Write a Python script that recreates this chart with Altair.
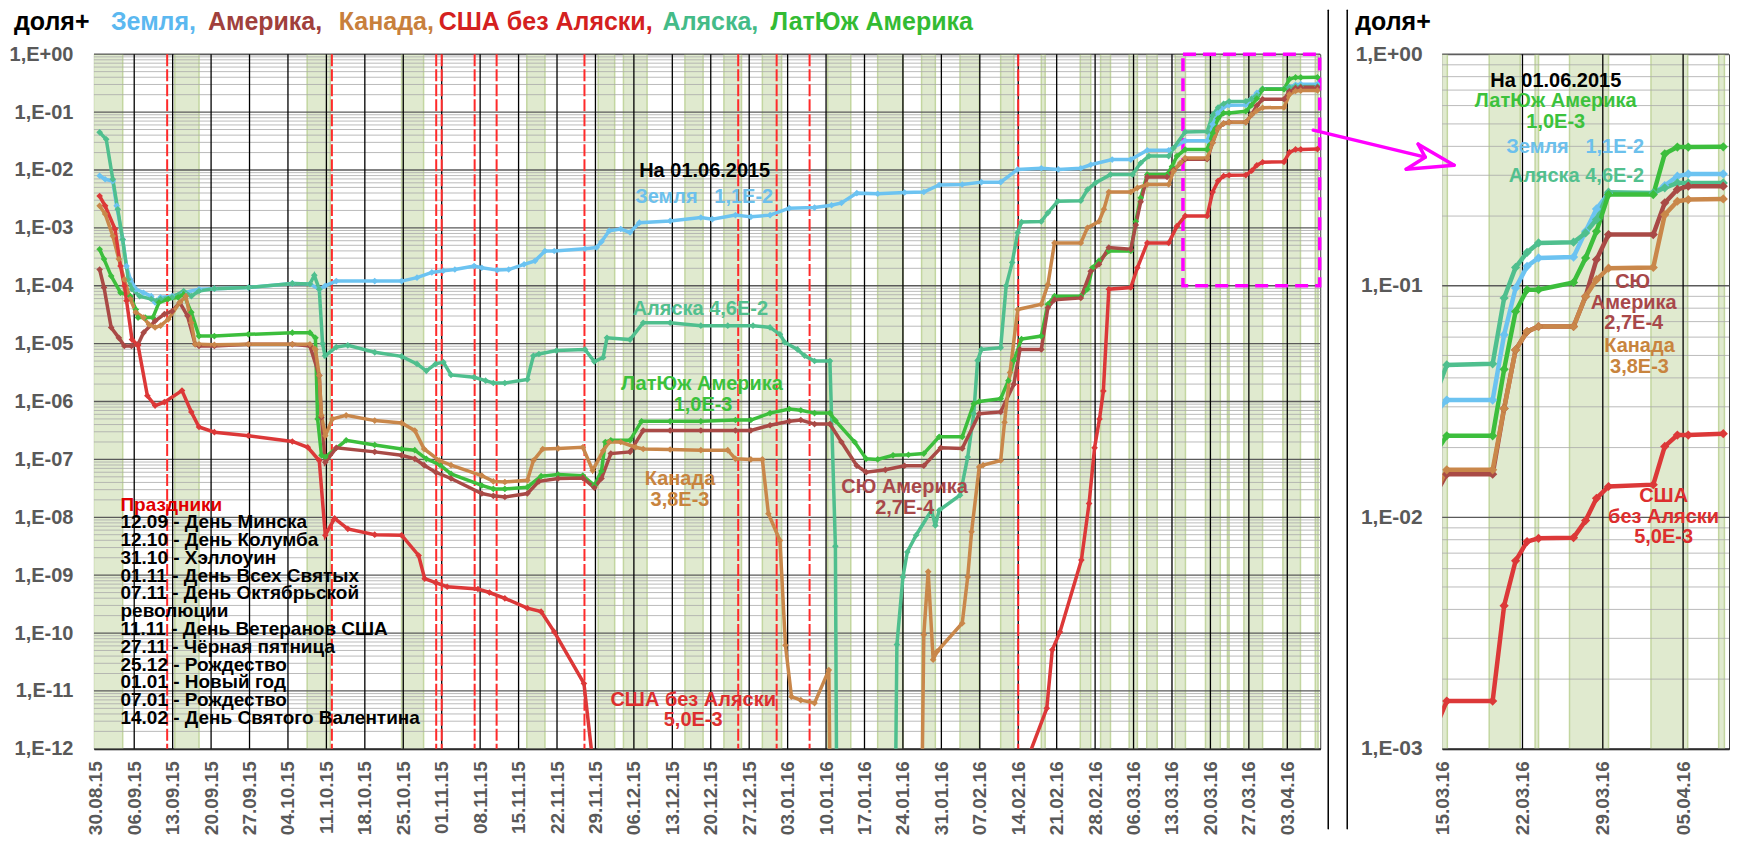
import altair as alt
import pandas as pd

BASE = pd.Timestamp("2015-08-30")
FONT = "Liberation Sans"
GRAY = "#595959"

# ---------------- data (day offset from 30.08.2015, log10 of share) ----------------
SERIES = ["Земля", "Аляска", "ЛатЮж Америка", "СЮ Америка", "Канада", "США без Аляски"]
COLORS = ["#6cc3f1", "#4fbf8e", "#3cbe3c", "#a94a46", "#c9874a", "#dc3838"]

zemlya = [(0.7,-2.10),(1.7,-2.16),(3.1,-2.19),(3.8,-2.62),(4.9,-3.20),(5.6,-3.66),(6.3,-3.89),(7.3,-4.06),
    (8.7,-4.12),(10.1,-4.18),(10.8,-4.29),(11.8,-4.20),(13.9,-4.18),(16.0,-4.12),(18.8,-4.06),(21.6,-4.05),
    (27.8,-4.03),(35.8,-3.96),(39.0,-3.97),(40.7,-4.06),(41.8,-4.00),(43.8,-3.92),(50.8,-3.92),(55.7,-3.92),
    (58.5,-3.86),(61.2,-3.77),(63.3,-3.74),(65.4,-3.72),(68.9,-3.66),(70.3,-3.69),(73.1,-3.73),(75.2,-3.72),
    (78.0,-3.63),(80.0,-3.57),(81.8,-3.40),(83.5,-3.40),(89.1,-3.36),(91.2,-3.34),(92.1,-3.24),(93.5,-3.05),
    (95.6,-3.02),(97.3,-3.08),(99.0,-2.91),(104.6,-2.88),(110.2,-2.82),(112.3,-2.85),(116.5,-2.78),(119.3,-2.81),
    (122.8,-2.78),(126.3,-2.66),(130.9,-2.65),(134.0,-2.61),(135.8,-2.57),(138.6,-2.40),(142.4,-2.41),(147.3,-2.39),
    (150.8,-2.38),(153.6,-2.26),(157.8,-2.25),(161.3,-2.21),(164.8,-2.21),(167.9,-1.99),(172.2,-1.97),(175.3,-1.99),
    (179.4,-1.97),(181.2,-1.91),(185.1,-1.82),(188.5,-1.82),(191.5,-1.66),(195.4,-1.66),(198.4,-1.494),(202.4,-1.494),
    (203.4,-1.212),(204.4,-1.01),(205.4,-0.916),(206.4,-0.880),(209.45,-0.876),(210.5,-0.765),(211.45,-0.668),
    (212.5,-0.602),(216.4,-0.602),(217.4,-0.567),(218.5,-0.527),(219.45,-0.517),(222.5,-0.517)]

alyaska = [(0.7,-1.35),(1.9,-1.47),(3.1,-2.16),(4.0,-2.68),(4.9,-3.20),(5.9,-3.89),(6.6,-4.06),(8.0,-4.18),
    (10.1,-4.23),(11.1,-4.26),(11.8,-4.23),(13.9,-4.20),(16.0,-4.09),(17.4,-4.18),(18.8,-4.09),(21.6,-4.05),
    (27.8,-4.03),(35.8,-3.96),(39.0,-3.97),(39.8,-3.82),(40.7,-4.06),(41.3,-5.0),(41.75,-5.21),(43.8,-5.06),
    (45.9,-5.03),(50.8,-5.15),(55.7,-5.22),(58.5,-5.35),(60.2,-5.47),(61.9,-5.35),(63.3,-5.32),(64.7,-5.54),
    (68.9,-5.58),(71.0,-5.64),(72.4,-5.68),(74.5,-5.68),(78.6,-5.62),(79.7,-5.21),(80.7,-5.18),(83.9,-5.12),
    (89.1,-5.10),(90.8,-5.31),(92.4,-5.24),(93.1,-4.90),(97.3,-4.93),(99.7,-4.64),(104.6,-4.64),(110.2,-4.69),
    (115.1,-4.69),(119.7,-4.69),(122.8,-4.72),(124.6,-4.84),(125.5,-4.98),(127.8,-5.10),(129.1,-5.21),(130.9,-5.30),
    (133.7,-5.30),(134.7,-8.5),(135.0,-14.0),(145.5,-14.0),(145.9,-10.2),(147.0,-9.03),(147.8,-8.6),(149.4,-8.31),
    (152.2,-7.88),(152.9,-8.14),(153.6,-7.88),(157.4,-7.62),(158.8,-6.96),(159.9,-6.21),(160.6,-5.29),(161.3,-5.10),
    (164.8,-5.07),(165.8,-4.0),(166.9,-3.60),(167.9,-3.08),(168.6,-2.90),(172.2,-2.89),(173.4,-2.74),(175.2,-2.54),
    (179.4,-2.53),(180.6,-2.34),(182.1,-2.22),(184.8,-2.08),(188.8,-2.08),(190.3,-1.88),(191.8,-1.76),(195.4,-1.76),
    (196.3,-1.62),(198.4,-1.342),(202.4,-1.337),(203.4,-1.053),(204.4,-0.921),(205.4,-0.856),(206.4,-0.815),
    (209.45,-0.812),(210.5,-0.772),(211.45,-0.714),(212.5,-0.596),(216.4,-0.599),(217.4,-0.577),(218.5,-0.556),
    (219.45,-0.556),(222.5,-0.556)]

latyuzh = [(0.7,-3.37),(1.5,-3.54),(2.8,-3.83),(4.5,-4.12),(6.3,-4.18),(7.3,-4.41),(7.7,-4.55),(9.0,-4.55),
    (10.4,-4.55),(11.5,-4.29),(13.2,-4.23),(15.0,-4.20),(16.0,-4.15),(17.4,-4.46),(18.8,-4.87),(21.6,-4.87),
    (27.8,-4.84),(35.8,-4.81),(39.0,-4.81),(40.0,-4.90),(40.4,-6.30),(41.1,-6.93),(41.8,-6.96),(45.6,-6.67),
    (50.8,-6.75),(55.7,-6.82),(58.1,-6.84),(60.2,-6.99),(62.6,-7.09),(64.7,-7.25),(70.3,-7.45),(72.4,-7.51),
    (74.5,-7.51),(78.6,-7.48),(81.1,-7.29),(84.2,-7.26),(88.7,-7.28),(90.8,-7.45),(92.1,-7.20),(92.8,-6.70),
    (93.8,-6.67),(97.3,-6.67),(99.4,-6.34),(104.6,-6.34),(110.2,-6.34),(116.5,-6.32),(119.3,-6.32),(122.8,-6.20),
    (126.3,-6.13),(128.4,-6.15),(130.9,-6.20),(133.7,-6.20),(134.7,-6.33),(138.2,-6.70),(140.3,-6.99),(142.4,-7.00),
    (145.2,-6.93),(148.0,-6.92),(150.8,-6.90),(153.6,-6.61),(157.8,-6.61),(159.9,-6.04),(160.9,-6.00),(164.8,-5.95),
    (166.2,-5.64),(167.2,-5.29),(168.6,-4.92),(172.2,-4.87),(173.4,-4.32),(174.6,-4.18),(179.4,-4.18),(180.6,-4.06),
    (181.5,-3.69),(182.7,-3.57),(184.5,-3.40),(188.5,-3.40),(189.4,-2.89),(190.3,-2.48),(191.5,-2.08),(195.1,-2.08),
    (196.0,-1.94),(196.9,-1.76),(198.4,-1.648),(202.4,-1.648),(203.4,-1.361),(204.4,-1.111),(205.4,-1.017),
    (206.4,-1.017),(209.45,-0.986),(210.5,-0.880),(211.45,-0.765),(212.5,-0.606),(216.4,-0.606),(217.4,-0.430),
    (218.5,-0.401),(219.45,-0.401),(222.5,-0.400)]

syu_amerika = [(0.7,-3.72),(1.5,-4.03),(2.8,-4.72),(4.2,-4.90),(5.2,-5.04),(6.5,-5.04),(7.7,-5.01),(8.7,-4.81),
    (10.8,-4.61),(12.5,-4.49),(13.9,-4.44),(15.3,-4.29),(16.7,-4.52),(18.1,-5.01),(18.8,-5.04),(21.6,-5.04),
    (27.8,-5.01),(35.8,-5.01),(39.0,-5.04),(40.7,-5.55),(41.1,-6.27),(41.8,-7.05),(43.8,-6.80),(50.8,-6.87),
    (55.7,-6.93),(58.1,-6.99),(59.8,-7.10),(61.9,-7.22),(64.7,-7.33),(70.3,-7.59),(72.4,-7.63),(74.5,-7.65),
    (78.6,-7.59),(80.7,-7.38),(84.2,-7.33),(88.7,-7.32),(90.8,-7.49),(92.1,-7.33),(93.8,-6.90),(97.3,-6.87),
    (99.7,-6.50),(104.6,-6.50),(110.2,-6.50),(116.5,-6.50),(119.3,-6.50),(122.8,-6.41),(126.3,-6.34),(128.4,-6.32),
    (130.9,-6.39),(133.7,-6.39),(135.8,-6.70),(138.6,-7.11),(140.3,-7.22),(143.8,-7.18),(147.3,-7.11),(150.8,-7.11),
    (153.9,-6.80),(157.8,-6.81),(160.9,-6.21),(164.8,-6.18),(167.2,-5.70),(168.3,-5.10),(172.2,-5.10),(173.4,-4.38),
    (174.6,-4.24),(179.4,-4.21),(181.2,-3.75),(182.7,-3.63),(184.5,-3.34),(188.5,-3.37),(189.4,-2.95),(190.3,-2.55),
    (191.5,-2.12),(195.1,-2.12),(196.3,-2.00),(198.4,-1.814),(202.4,-1.814),(203.4,-1.53),(204.4,-1.277),
    (205.4,-1.198),(206.4,-1.176),(209.45,-1.176),(210.5,-1.046),(211.45,-0.887),(212.5,-0.779),(216.4,-0.779),
    (217.4,-0.642),(218.5,-0.584),(219.45,-0.570),(222.5,-0.570)]

kanada = [(0.7,-2.62),(1.7,-2.76),(3.1,-3.14),(4.2,-3.54),(5.2,-3.89),(6.3,-4.23),(7.3,-4.46),(8.7,-4.55),
    (9.7,-4.67),(10.8,-4.72),(11.8,-4.69),(13.2,-4.58),(15.3,-4.29),(16.4,-4.18),(17.4,-4.64),(18.1,-5.01),
    (18.8,-5.01),(21.6,-5.02),(27.8,-5.01),(35.8,-5.01),(39.0,-5.01),(40.0,-5.10),(40.7,-5.55),(41.1,-6.24),
    (41.8,-6.59),(43.1,-6.30),(45.6,-6.24),(50.8,-6.33),(55.7,-6.37),(58.1,-6.50),(59.8,-6.82),(62.6,-7.02),
    (64.7,-7.10),(70.3,-7.28),(72.4,-7.38),(74.5,-7.39),(78.6,-7.36),(79.7,-7.02),(81.4,-6.82),(84.2,-6.81),
    (88.7,-6.79),(90.5,-7.19),(92.4,-6.85),(93.5,-6.70),(95.6,-6.70),(98.3,-6.79),(99.7,-6.82),(104.6,-6.83),
    (110.2,-6.84),(115.1,-6.84),(116.5,-6.99),(119.3,-7.00),(121.4,-7.00),(122.5,-7.94),(124.6,-8.40),(125.6,-10.21),
    (126.7,-11.10),(128.4,-11.16),(130.9,-11.21),(133.5,-10.64),(133.9,-14.0),(150.3,-14.0),(150.8,-10.03),
    (151.6,-8.94),(152.5,-10.46),(153.2,-10.32),(157.8,-9.83),(158.8,-9.03),(159.5,-8.25),(160.9,-7.13),(161.6,-7.10),
    (164.8,-7.02),(165.5,-6.36),(166.5,-5.50),(167.9,-4.41),(172.2,-4.32),(173.4,-3.98),(174.6,-3.26),(179.4,-3.26),
    (180.6,-3.00),(182.7,-2.89),(183.6,-2.68),(184.5,-2.38),(188.5,-2.38),(189.7,-2.31),(191.5,-2.25),(195.4,-2.25),
    (196.3,-2.02),(197.5,-1.88),(198.4,-1.795),(202.4,-1.795),(203.4,-1.53),(204.4,-1.277),(205.4,-1.198),
    (206.4,-1.176),(209.45,-1.176),(210.5,-1.046),(211.45,-0.974),(212.5,-0.924),(216.4,-0.921),(217.4,-0.693),
    (218.5,-0.635),(219.45,-0.628),(222.5,-0.625)]

ssha = [(0.7,-2.45),(1.7,-2.62),(3.5,-3.02),(4.5,-3.66),(5.2,-4.00),(5.6,-4.26),(6.6,-4.93),(7.7,-5.03),
    (9.4,-5.90),(10.8,-6.07),(12.5,-6.01),(15.7,-5.81),(17.4,-6.18),(18.8,-6.44),(21.6,-6.53),(27.8,-6.59),
    (35.8,-6.69),(38.6,-6.79),(40.7,-7.02),(41.8,-8.31),(43.5,-8.02),(45.9,-8.20),(50.8,-8.30),(55.7,-8.31),
    (58.8,-8.66),(59.9,-9.06),(61.9,-9.13),(64.0,-9.20),(69.6,-9.24),(71.7,-9.30),(74.5,-9.40),(78.6,-9.57),
    (81.1,-9.63),(83.5,-9.98),(88.9,-10.87),(90.6,-12.3),(90.8,-14.0),(169.5,-14.0),(169.6,-12.2),(173.2,-11.30),
    (174.2,-10.29),(175.6,-9.98),(179.5,-8.74),(180.9,-7.76),(181.9,-6.80),(182.8,-6.30),(183.5,-5.82),(184.5,-4.06),
    (188.5,-4.03),(189.7,-3.69),(191.5,-3.26),(195.4,-3.26),(196.9,-2.97),(198.4,-2.794),(202.4,-2.794),
    (203.4,-2.382),(204.4,-2.188),(205.4,-2.105),(206.4,-2.091),(209.45,-2.088),(210.5,-2.014),(211.45,-1.918),
    (212.5,-1.867),(216.4,-1.859),(217.4,-1.694),(218.5,-1.645),(219.45,-1.645),(222.5,-1.639)]

SERIES_POINTS = [zemlya, alyaska, latyuzh, syu_amerika, kanada, ssha]

SUNDAYS = ["2015-08-30","2015-09-06","2015-09-13","2015-09-20","2015-09-27","2015-10-04","2015-10-11",
    "2015-10-18","2015-10-25","2015-11-01","2015-11-08","2015-11-15","2015-11-22","2015-11-29","2015-12-06",
    "2015-12-13","2015-12-20","2015-12-27","2016-01-03","2016-01-10","2016-01-17","2016-01-24","2016-01-31",
    "2016-02-07","2016-02-14","2016-02-21","2016-02-28","2016-03-06","2016-03-13","2016-03-20","2016-03-27",
    "2016-04-03"]
RIGHT_TICKS = ["2016-03-15", "2016-03-22", "2016-03-29", "2016-04-05"]
HOLIDAYS = ["2015-09-12","2015-10-12","2015-10-31","2015-11-01","2015-11-07","2015-11-11","2015-11-27",
    "2015-12-25","2016-01-01","2016-01-07","2016-02-14"]
HOLIDAY_TEXT = ["12.09 - День Минска", "12.10 - День Колумба", "31.10 - Хэллоуин", "01.11 - День Всех Святых",
    "07.11 - День Октябрьской", "революции", "11.11 - День Ветеранов США", "27.11 - Чёрная пятница",
    "25.12 - Рождество", "01.01 - Новый год", "07.01 - Рождество", "14.02 - День Святого Валентина"]

BANDS = [(-0.4,4.9),(14.4,18.8),(38.5,42.7),(55.7,59.7),(78.5,81.8),(91.5,94.5),(96.1,100.4),(107.3,110.6),
    (114.4,117.6),(121.4,124.9),(133.3,137.5),(142.4,147.0),(150.4,152.9),(157.4,160.9),(164.8,167.2),
    (172.2,172.9),(179.3,181.2),(183.0,184.8),(188.2,189.7),(191.4,193.3),(196.6,198.45),(202.1,204.8),
    (206.1,206.4),(209.1,212.5),(216.2,219.4),(222.1,222.6)]

LEFT_NOTES = [("На 01.06.2015", 110.9, -2.02, "black"),
    ("Земля\u00a0\u00a0\u00a01,1E-2", 110.8, -2.46, "#6cc0ec"),
    ("Аляска 4,6E-2", 110.1, -4.40, "#52c08e"),
    ("ЛатЮж Америка", 110.4, -5.70, "#3cc23c"), ("1,0E-3", 110.6, -6.055, "#3cc23c"),
    ("Канада", 106.4, -7.34, "#c8843e"), ("3,8E-3", 106.4, -7.695, "#c8843e"),
    ("СЮ Америка", 147.3, -7.48, "#a8484a"), ("2,7E-4", 147.3, -7.835, "#a8484a"),
    ("США без Аляски", 108.8, -11.15, "#dd2e2e"), ("5,0E-3", 108.8, -11.505, "#dd2e2e")]
RIGHT_NOTES = [("На 01.06.2015", 207.9, -0.115, "black"),
    ("ЛатЮж Америка", 207.9, -0.203, "#3cc23c"), ("1,0E-3", 207.9, -0.292, "#3cc23c"),
    ("Земля\u00a0\u00a0\u00a01,1E-2", 209.6, -0.40, "#6cc0ec"),
    ("Аляска 4,6E-2", 209.7, -0.524, "#52c08e"),
    ("СЮ", 214.6, -0.984, "#a8484a"), ("Америка", 214.7, -1.073, "#a8484a"), ("2,7E-4", 214.7, -1.162, "#a8484a"),
    ("Канада", 215.2, -1.262, "#c8843e"), ("3,8E-3", 215.2, -1.351, "#c8843e"),
    ("США", 217.3, -1.908, "#dd2e2e"), ("без Аляски", 217.3, -1.997, "#dd2e2e"), ("5,0E-3", 217.3, -2.086, "#dd2e2e")]

TITLE_WORDS = [("Земля,", "#5bb8f0"), ("Америка,", "#a0403c"), ("Канада,", "#c8803c"),
    ("США без Аляски,", "#d42020"), ("Аляска,", "#44bb88"), ("ЛатЮж Америка", "#33bb33")]
TITLE_X = [17, 114, 245, 345, 569, 677]

# ---------------- helpers ----------------
def day(d):
    return BASE + pd.Timedelta(days=d)

def dtime(s):
    t = pd.Timestamp(s)
    return alt.DateTime(year=t.year, month=t.month, date=t.day, hours=t.hour)

rows = []
for name, pts in zip(SERIES, SERIES_POINTS):
    for d, e in pts:
        rows.append({"series": name, "date": day(d), "value": 10.0 ** e})
df = pd.DataFrame(rows)

LBL = ("'1,E' + (datum.value >= 1 ? '+' : '-') + "
       "(abs(round(log(datum.value) / LN10)) < 10 ? '0' : '') + abs(round(log(datum.value) / LN10))")


def make_panel(width, height, xdom, ydom_exp, xticks, vlines, bands, holidays, notes,
               lw, ps, yfs, ypad, extra):
    xscale = alt.Scale(domain=[dtime(xdom[0]), dtime(xdom[1])])
    yscale = alt.Scale(type="log", domain=[10.0 ** ydom_exp, 1.0], nice=False)
    xaxis = alt.Axis(values=[dtime(s) for s in xticks], format="%d.%m.%y", labelAngle=270,
                     labelFont=FONT, labelFontSize=19, labelFontWeight="bold", labelColor=GRAY,
                     grid=False, ticks=False, domainColor="black", domainWidth=2, labelPadding=12,
                     labelFlush=False, labelOverlap=False, title=None)
    major = [10.0 ** k for k in range(ydom_exp, 1)]
    yaxis = alt.Axis(values=major, labelExpr=LBL, labelFont=FONT, labelFontSize=yfs,
                     labelFontWeight="bold", labelColor=GRAY, grid=False, ticks=False, domain=False,
                     labelPadding=ypad, labelOverlap=False, title=None)

    def X(f="date"):
        return alt.X(f + ":T", scale=xscale, axis=xaxis)

    def Y(f="value"):
        return alt.Y(f + ":Q", scale=yscale, axis=yaxis)

    layers = []
    bdf = pd.DataFrame({"date": [day(a) for a, b in bands], "date2": [day(b) for a, b in bands]})
    layers.append(alt.Chart(bdf).mark_rect(fill="#e0eacf", stroke="#c3d6a0", strokeWidth=1.5, clip=True)
                  .encode(x=X(), x2="date2:T"))
    minor = [m * 10.0 ** k for k in range(ydom_exp, 0) for m in range(2, 10)]
    layers.append(alt.Chart(pd.DataFrame({"value": minor})).mark_rule(color="#aaaaaa", strokeWidth=0.8)
                  .encode(y=Y()))
    layers.append(alt.Chart(pd.DataFrame({"value": major})).mark_rule(color="#5a5a5a", strokeWidth=1.3)
                  .encode(y=Y()))
    layers.append(alt.Chart(pd.DataFrame({"date": [pd.Timestamp(s) for s in vlines]}))
                  .mark_rule(color="black", strokeWidth=1.3).encode(x=X()))
    if holidays:
        layers.append(alt.Chart(pd.DataFrame({"date": [pd.Timestamp(s) for s in holidays]}))
                      .mark_rule(color="#ff2a2a", strokeWidth=2, strokeDash=[12, 3]).encode(x=X()))
    layers.extend(extra(X, Y))
    layers.append(alt.Chart(df).mark_line(strokeWidth=lw, clip=True,
                  point=alt.OverlayMarkDef(shape="diamond", filled=True, size=ps, clip=True))
                  .encode(x=X(), y=Y(), color=alt.Color("series:N", scale=alt.Scale(domain=SERIES, range=COLORS),
                                                         legend=None)))
    for txt, d, e, c in notes:
        ndf = pd.DataFrame({"text": [txt], "date": [day(d)], "value": [10.0 ** e]})
        layers.append(alt.Chart(ndf).mark_text(font=FONT, fontSize=20, fontWeight="bold", color=c,
                                               align="center", baseline="middle")
                      .encode(x=X(), y=Y(), text="text:N"))
    return alt.layer(*layers).properties(width=width, height=height)


def left_extra(X, Y):
    out = []
    box = pd.DataFrame({"date": [day(198.0)], "date2": [day(222.9)], "value": [1e-4], "value2": [1.0]})
    out.append(alt.Chart(box).mark_rect(fillOpacity=0, stroke="#ff00ff", strokeWidth=3.5, strokeDash=[13, 7])
               .encode(x=X(), x2="date2:T", y=Y(), y2="value2:Q"))
    hdf = pd.DataFrame({"text": ["Праздники"], "date": [day(4.5)], "value": [10.0 ** -7.78]})
    out.append(alt.Chart(hdf).mark_text(font=FONT, fontSize=19, fontWeight="bold", color="#e00000",
                                        align="left", baseline="middle").encode(x=X(), y=Y(), text="text:N"))
    ldf = pd.DataFrame({"text": ["\n".join(HOLIDAY_TEXT)], "date": [day(4.5)], "value": [10.0 ** -7.93]})
    out.append(alt.Chart(ldf).mark_text(font=FONT, fontSize=19, fontWeight="bold", color="black",
                                        align="left", baseline="top", lineBreak="\n", lineHeight=17.8)
               .encode(x=X(), y=Y(), text="text:N"))
    out.append(alt.Chart(pd.DataFrame({"text": ["доля+"]})).mark_text(
        font=FONT, fontSize=25, fontWeight="bold", color="black", align="left", baseline="middle")
        .encode(x=alt.value(-80), y=alt.value(-32), text="text:N"))
    for (w, c), xp in zip(TITLE_WORDS, TITLE_X):
        out.append(alt.Chart(pd.DataFrame({"text": [w]})).mark_text(
            font=FONT, fontSize=25, fontWeight="bold", color=c, align="left", baseline="middle")
            .encode(x=alt.value(xp), y=alt.value(-32), text="text:N"))
    return out


def seg(x1, y1, x2, y2, color, w):
    return (alt.Chart(pd.DataFrame({"k": [0]})).mark_rule(color=color, strokeWidth=w, strokeCap="round")
            .encode(x=alt.value(x1), y=alt.value(y1), x2=alt.value(x2), y2=alt.value(y2)))


def right_extra(X, Y):
    out = []
    out.append(alt.Chart(pd.DataFrame({"text": ["доля+"]})).mark_text(
        font=FONT, fontSize=25, fontWeight="bold", color="black", align="left", baseline="middle")
        .encode(x=alt.value(-87), y=alt.value(-32), text="text:N"))
    return out


left = make_panel(1227, 695, ("2015-08-29 16:00", "2016-04-09"), -12, SUNDAYS, SUNDAYS[1:], BANDS, HOLIDAYS,
                  LEFT_NOTES, 3.5, 44, 20, 21, left_extra)

right_base = make_panel(287, 695, ("2016-03-15", "2016-04-09"), -3, RIGHT_TICKS, RIGHT_TICKS[1:], BANDS, [],
                        RIGHT_NOTES, 4.5, 85, 21, 20, right_extra)

mag = "#ff00ff"
decor = [seg(-114, -44, -114, 775, "black", 1.5), seg(-95, -44, -95, 775, "black", 1.5),
         seg(-129, 76, -17, 103, mag, 3.5), seg(12, 111, -24, 90, mag, 3.5), seg(12, 111, -36, 115, mag, 3.5),
         seg(-24, 90, -17, 103, mag, 3.5), seg(-36, 115, -17, 103, mag, 3.5)]
right = alt.layer(right_base, *decor)

chart = (alt.hconcat(left, right, spacing=122, bounds="flush")
         .properties(padding=0)
         .configure_view(stroke="#404040", strokeWidth=1))

chart.save("out.html", embed_options={"renderer": "svg", "actions": False})
